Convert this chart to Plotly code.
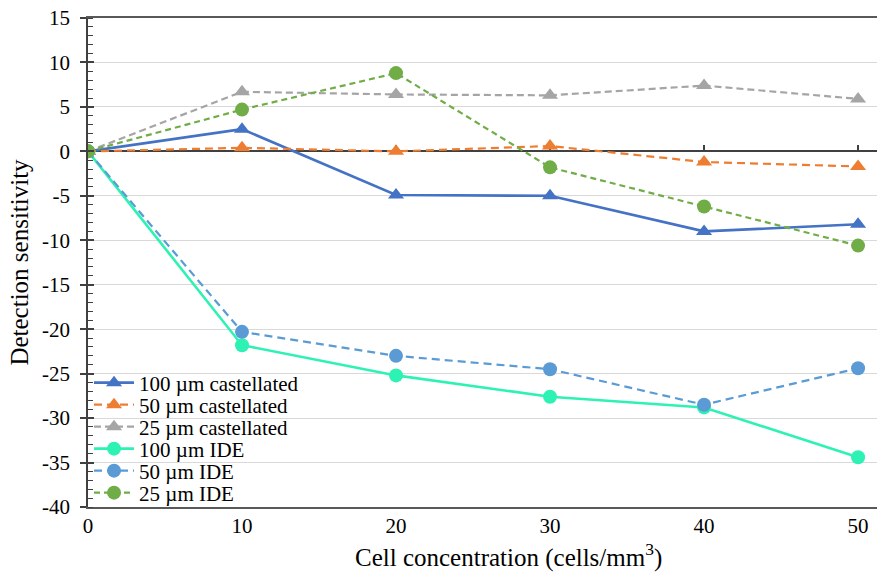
import plotly.graph_objects as go

# Cell concentration (cells/mm^3)
concentration = [0, 10, 20, 30, 40, 50]

# Detection sensitivity for each electrode design
cast_100 = [0, 2.5, -4.9, -5.0, -9.0, -8.2]
cast_50 = [0, 0.4, 0.0, 0.6, -1.2, -1.7]
cast_25 = [0, 6.7, 6.4, 6.3, 7.4, 5.9]
ide_100 = [0, -21.8, -25.2, -27.6, -28.8, -34.4]
ide_50 = [0, -20.3, -23.0, -24.5, -28.5, -24.4]
ide_25 = [0, 4.7, 8.8, -1.8, -6.2, -10.6]

# Y tick values and their labels (plain hyphen minus)
y_ticks = [15, 10, 5, 0, -5, -10, -15, -20, -25, -30, -35, -40]
y_tick_labels = [str(v) for v in y_ticks]

series = [
    ("100 µm castellated", cast_100, "#4472C4", "solid", "triangle-up", 2.6),
    ("50 µm castellated", cast_50, "#ED7D31", "8px,5px", "triangle-up", 2.2),
    ("25 µm castellated", cast_25, "#A5A5A5", "7px,4px", "triangle-up", 2.2),
    ("100 µm IDE", ide_100, "#2EF2B4", "solid", "circle", 2.6),
    ("50 µm IDE", ide_50, "#5B9BD5", "8px,5px", "circle", 2.2),
    ("25 µm IDE", ide_25, "#70AD47", "6px,4px", "circle", 2.2),
]

FONT = "Liberation Serif"
PLOT_LEFT, PLOT_RIGHT = 88, 877
PLOT_TOP, PLOT_BOTTOM = 18, 507
PLOT_W = PLOT_RIGHT - PLOT_LEFT
PLOT_H = PLOT_BOTTOM - PLOT_TOP
# Legend rows (pixel centres), one single-entry legend per series
legend_rows = [383, 405, 427, 449, 471, 493]

fig = go.Figure()
for i, (name, vals, color, dash, symbol, width) in enumerate(series):
    fig.add_trace(go.Scatter(
        x=concentration, y=vals, name=name, mode="lines+markers",
        line=dict(color=color, width=width, dash=dash),
        marker=dict(symbol=symbol, size=14, color=color),
        legend="legend" if i == 0 else f"legend{i + 1}",
    ))

# Labelled bottom axis (overlay)
fig.add_trace(go.Scatter(x=[0], y=[0], xaxis="x2", yaxis="y", showlegend=False,
                         mode="markers", marker=dict(opacity=0), hoverinfo="skip"))
# Inner half of the major y ticks
fig.add_trace(go.Scatter(x=[0], y=[0], xaxis="x", yaxis="y2", showlegend=False,
                         mode="markers", marker=dict(opacity=0), hoverinfo="skip"))

xrange = [0, 51.23]
yrange = [-40, 15]

legends = {}
for i, row in enumerate(legend_rows):
    key = "legend" if i == 0 else f"legend{i + 1}"
    legends[key] = dict(
        x=0.0013, y=(PLOT_BOTTOM - row) / PLOT_H, xanchor="left", yanchor="middle",
        bgcolor="rgba(0,0,0,0)", font=dict(family=FONT, size=21, color="black"),
        itemwidth=40, borderwidth=0,
    )

fig.update_layout(
    width=877, height=579,
    margin=dict(l=PLOT_LEFT, r=877 - PLOT_RIGHT, t=PLOT_TOP, b=579 - PLOT_BOTTOM),
    paper_bgcolor="white", plot_bgcolor="white",
    font=dict(family=FONT, size=21, color="black"),
    # horizontal axis crossing at y = 0, ticks pointing up, drawn beneath the series
    xaxis=dict(
        range=xrange, tickvals=concentration, showticklabels=False,
        anchor="free", position=40 / 55, layer="below traces",
        showgrid=False, zeroline=False,
        showline=True, linecolor="#404040", linewidth=1.5,
        ticks="inside", ticklen=6, tickcolor="#404040", tickwidth=1.5,
    ),
    # bottom axis carrying the labels, plus the top frame line
    xaxis2=dict(
        range=xrange, overlaying="x", anchor="y", side="bottom",
        tickvals=concentration, showgrid=False, zeroline=False,
        showline=True, linecolor="#595959", linewidth=1.5, mirror=True,
        ticks="", ticklabelstandoff=-1,
        tickfont=dict(family=FONT, size=21),
    ),
    yaxis=dict(
        range=yrange, tickvals=y_ticks, ticktext=y_tick_labels,
        showgrid=True, gridcolor="#D9D9D9", gridwidth=1.2,
        zeroline=False, showline=True, linecolor="#404040", linewidth=1.5,
        ticks="outside", ticklen=6, tickcolor="#404040", tickwidth=1.5,
        ticklabelstandoff=6,
        minor=dict(dtick=1, ticks="inside", ticklen=5, tickcolor="#404040",
                   tickwidth=1.2, showgrid=False),
        tickfont=dict(family=FONT, size=21),
        title=dict(text="Detection sensitivity", font=dict(family=FONT, size=25), standoff=6),
    ),
    yaxis2=dict(
        range=yrange, overlaying="y", anchor="x2", side="left", tickvals=y_ticks,
        showticklabels=False, showgrid=False, zeroline=False,
        ticks="inside", ticklen=6, tickcolor="#404040", tickwidth=1.5,
    ),
    annotations=[dict(
        text="Cell concentration (cells/mm<sup>3</sup>)", showarrow=False,
        xref="paper", yref="paper", x=(508 - PLOT_LEFT) / PLOT_W,
        y=(PLOT_BOTTOM - 555) / PLOT_H, xanchor="center", yanchor="middle",
        font=dict(family=FONT, size=25, color="black"),
    )],
    showlegend=True,
    **legends,
)

fig.write_html("out.html")
